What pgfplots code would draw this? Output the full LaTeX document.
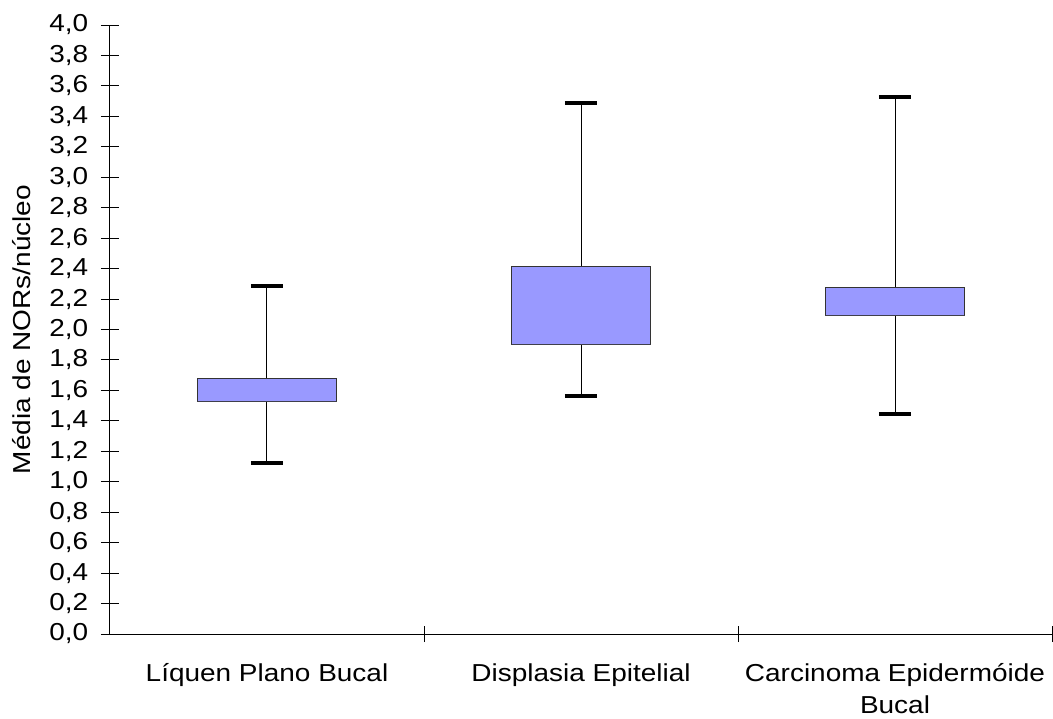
\documentclass[border=0pt]{standalone}
\usepackage{fontspec}
\setmainfont{Liberation Sans}[FakeStretch=1.14]
\usepackage{pgfplots}
\pgfplotsset{compat=1.18}
\usepgfplotslibrary{statistics}
\definecolor{boxblue}{HTML}{9999FF}
\newcommand{\chartfont}{\fontsize{18.4pt}{23.5pt}\selectfont}
\newcommand{\twolines}[2]{\vtop{\baselineskip=23.5pt\halign{\hfil##\hfil\cr #1\cr #2\cr}}}
\begin{document}
\begin{tikzpicture}
\begin{axis}[
  scale only axis,
  width=706.5pt, height=456.75pt,
  xmin=0.5, xmax=3.5, ymin=0, ymax=4,
  axis lines*=left,
  axis line style={-, line width=0.75pt, black},
  ytick={0,0.2,0.4,0.6,0.8,1.0,1.2,1.4,1.6,1.8,2.0,2.2,2.4,2.6,2.8,3.0,3.2,3.4,3.6,3.8,4.0},
  yticklabel style={xshift=-6pt, /pgf/number format/.cd, fixed, fixed zerofill, precision=1, use comma, assume math mode=true},
  xtick={1,2,3},
  xticklabels={Líquen Plano Bucal, Displasia Epitelial, {\twolines{Carcinoma Epidermóide}{Bucal}}},
  xtick style={draw=none},
  extra x ticks={1.5,2.5,3.5},
  extra x tick labels={},
  extra x tick style={xtick style={draw=black, line width=0.75pt}, major tick length=12pt},
  tick align=center,
  major tick length=13.5pt,
  tick style={line width=0.75pt, black},
  tick label style={font=\chartfont},
  xticklabel style={anchor=base, yshift=-29pt, inner sep=0.5pt},
  ylabel={Média de NORs/núcleo},
  ylabel style={font=\chartfont, at={(axis description cs:-0.0934,0.5)}, anchor=center},
  boxplot/draw direction=y,
  boxplot/draw/lower whisker/.code={
    \draw[black, line width=0.75pt] (boxplot cs:\pgfplotsboxplotvalue{lower whisker}) -- (boxplot cs:\pgfplotsboxplotvalue{lower quartile});
    \draw[black, line width=3pt] (boxplot whisker cs:\pgfplotsboxplotvalue{lower whisker},0) -- (boxplot whisker cs:\pgfplotsboxplotvalue{lower whisker},1);
  },
  boxplot/draw/upper whisker/.code={
    \draw[black, line width=0.75pt] (boxplot cs:\pgfplotsboxplotvalue{upper whisker}) -- (boxplot cs:\pgfplotsboxplotvalue{upper quartile});
    \draw[black, line width=3pt] (boxplot whisker cs:\pgfplotsboxplotvalue{upper whisker},0) -- (boxplot whisker cs:\pgfplotsboxplotvalue{upper whisker},1);
  },
  boxplot/every median/.style={draw=none},
]
\addplot[boxplot prepared={draw position=1, lower whisker=1.125, lower quartile=1.530, median=1.530, upper quartile=1.677, upper whisker=2.286, box extend=0.443, whisker extend=0.102}, fill=boxblue, draw=black!80, line width=0.75pt] coordinates {};
\addplot[boxplot prepared={draw position=2, lower whisker=1.563, lower quartile=1.903, median=1.903, upper quartile=2.411, upper whisker=3.485, box extend=0.443, whisker extend=0.102}, fill=boxblue, draw=black!80, line width=0.75pt] coordinates {};
\addplot[boxplot prepared={draw position=3, lower whisker=1.445, lower quartile=2.091, median=2.091, upper quartile=2.277, upper whisker=3.529, box extend=0.443, whisker extend=0.102}, fill=boxblue, draw=black!80, line width=0.75pt] coordinates {};
\end{axis}
\pgfresetboundingbox
\useasboundingbox (-82.5pt,-63pt) rectangle (707.25pt,475.5pt);
\end{tikzpicture}
\end{document}
